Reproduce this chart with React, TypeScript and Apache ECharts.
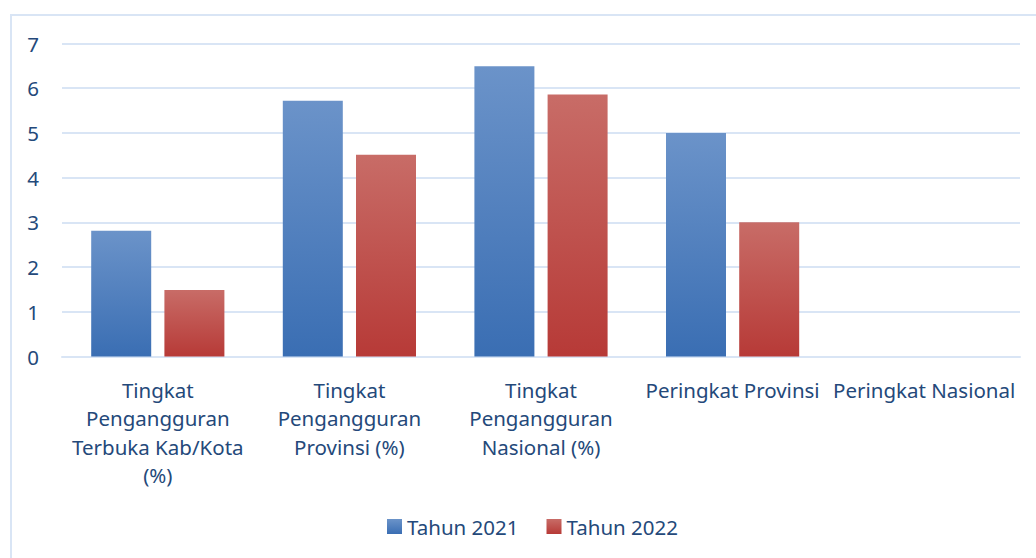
import React, { useEffect, useRef } from "react";
import * as echarts from "echarts";

const categories = [
  "Tingkat\nPengangguran\nTerbuka Kab/Kota\n(%)",
  "Tingkat\nPengangguran\nProvinsi (%)",
  "Tingkat\nPengangguran\nNasional (%)",
  "Peringkat Provinsi",
  "Peringkat Nasional",
];
const seriesNames = ["Tahun 2021", "Tahun 2022"];
const values2021 = [2.81, 5.72, 6.49, 5, null];
const values2022 = [1.49, 4.51, 5.86, 3, null];
const yTicks = [0, 1, 2, 3, 4, 5, 6, 7];

const textColor = "#24497a";
const fontFamily = "'Noto Sans', 'Open Sans', sans-serif";
const fontSize = 20.5;

export default function App() {
  const ref = useRef<HTMLDivElement>(null);
  useEffect(() => {
    document.body.style.margin = "0";
    const chart = echarts.init(ref.current!, null, { renderer: "svg" });
    const grad = (top: string, bottom: string) =>
      new echarts.graphic.LinearGradient(0, 0, 0, 1, [
        { offset: 0, color: top },
        { offset: 1, color: bottom },
      ]);
    chart.setOption({
      animation: false,
      backgroundColor: "#ffffff",
      textStyle: { fontFamily, color: textColor },
      graphic: [
        {
          type: "rect",
          shape: { x: 11, y: 15, width: 1100, height: 600 },
          style: { fill: "none", stroke: "#d9e5f5", lineWidth: 2 },
          silent: true,
        },
      ],
      grid: { left: 62, right: 16, top: 43.5, bottom: 201.5 },
      legend: {
        bottom: 16,
        left: 382,
        itemWidth: 15,
        itemHeight: 15,
        itemGap: 28,
        icon: "rect",
        textStyle: { fontFamily, fontSize, color: textColor },
        data: seriesNames,
      },
      xAxis: {
        type: "category",
        data: categories,
        axisLine: { lineStyle: { color: "#d9e5f5", width: 2 } },
        axisTick: { show: false },
        axisLabel: {
          interval: 0,
          margin: 19,
          fontSize,
          lineHeight: 28.5,
          color: textColor,
          fontFamily,
        },
      },
      yAxis: {
        type: "value",
        min: yTicks[0],
        max: yTicks[yTicks.length - 1],
        interval: 1,
        axisLine: { show: false },
        axisTick: { show: false },
        splitLine: { lineStyle: { color: "#d9e5f5", width: 2 } },
        axisLabel: { margin: 23, fontSize, color: textColor, fontFamily },
      },
      series: [
        {
          name: seriesNames[0],
          type: "bar",
          data: values2021,
          barWidth: 60,
          barGap: "22%",
          itemStyle: { color: grad("#6b93c9", "#3a6eb3") },
        },
        {
          name: seriesNames[1],
          type: "bar",
          data: values2022,
          barWidth: 60,
          itemStyle: { color: grad("#c86c67", "#b73a37") },
        },
      ],
    });
    return () => chart.dispose();
  }, []);
  return (
    <div
      ref={ref}
      style={{ position: "fixed", left: 0, top: 0, width: 1036, height: 558 }}
    />
  );
}
